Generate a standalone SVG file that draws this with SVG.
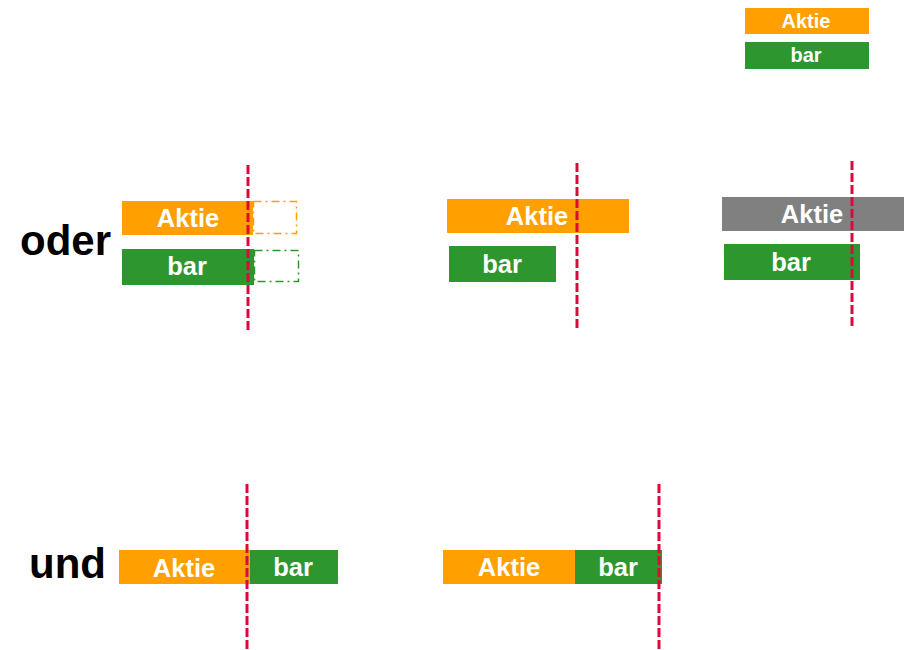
<svg xmlns="http://www.w3.org/2000/svg" width="904" height="650" viewBox="0 0 904 650">
<style>
.o{fill:#FFA000}
.g{fill:#2E962E}
.gr{fill:#808080}
.t{font-family:"Liberation Sans",Arial,sans-serif;font-weight:bold;fill:#fff;text-anchor:middle;font-size:25.5px}
.tl{font-family:"Liberation Sans",Arial,sans-serif;font-weight:bold;fill:#fff;text-anchor:middle;font-size:20px}
.big{font-family:"Liberation Sans",Arial,sans-serif;font-weight:bold;fill:#000;font-size:42px}
.cut{stroke:#DC0A3C;stroke-width:3;stroke-dasharray:9 3;fill:none}
.dbo{fill:none;stroke:#FFA000;stroke-width:1.5;stroke-dasharray:8 4 2 4}
.dbg{fill:none;stroke:#2E962E;stroke-width:1.5;stroke-dasharray:8 4 2 4}
</style>
<rect width="904" height="650" fill="#fff"/>
<g id="legend">
<rect class="o" x="745" y="8" width="124" height="26"/>
<text class="tl" x="806" y="28">Aktie</text>
<rect class="g" x="745" y="42" width="124" height="27"/>
<text class="tl" x="806" y="62">bar</text>
</g>
<text class="big" x="20" y="255">oder</text>
<text class="big" x="29" y="578">und</text>
<g id="case1">
<rect class="o" x="122" y="201" width="131" height="34"/>
<text class="t" x="188" y="227">Aktie</text>
<rect class="dbo" x="253.5" y="201.5" width="43" height="32"/>
<rect class="g" x="122" y="249" width="132" height="36"/>
<text class="t" x="187" y="275">bar</text>
<rect class="dbg" x="254.5" y="250.5" width="44" height="31"/>
</g>
<g id="case2">
<rect class="o" x="447" y="199" width="182" height="34"/>
<text class="t" x="537" y="225">Aktie</text>
<rect class="g" x="449" y="246" width="107" height="36"/>
<text class="t" x="502" y="273">bar</text>
</g>
<g id="case3">
<rect class="gr" x="722" y="197" width="182" height="34"/>
<text class="t" x="812" y="223">Aktie</text>
<rect class="g" x="724" y="244" width="136" height="36"/>
<text class="t" x="791" y="271">bar</text>
</g>
<g id="case4">
<rect class="o" x="119" y="550" width="131" height="34"/>
<text class="t" x="184" y="577">Aktie</text>
<rect class="g" x="250" y="550" width="88" height="34"/>
<text class="t" x="293" y="576">bar</text>
</g>
<g id="case5">
<rect class="o" x="443" y="550" width="132" height="34"/>
<text class="t" x="509" y="576">Aktie</text>
<rect class="g" x="575" y="550" width="87" height="34"/>
<text class="t" x="618" y="576">bar</text>
</g>
<g id="connectors">
<line class="cut" x1="248" y1="165" x2="248" y2="333"/>
<line class="cut" x1="577" y1="163" x2="577" y2="331"/>
<line class="cut" x1="852" y1="161" x2="852" y2="329"/>
<line class="cut" x1="247" y1="484" x2="247" y2="650"/>
<line class="cut" x1="659" y1="484" x2="659" y2="650"/>
</g>
</svg>
